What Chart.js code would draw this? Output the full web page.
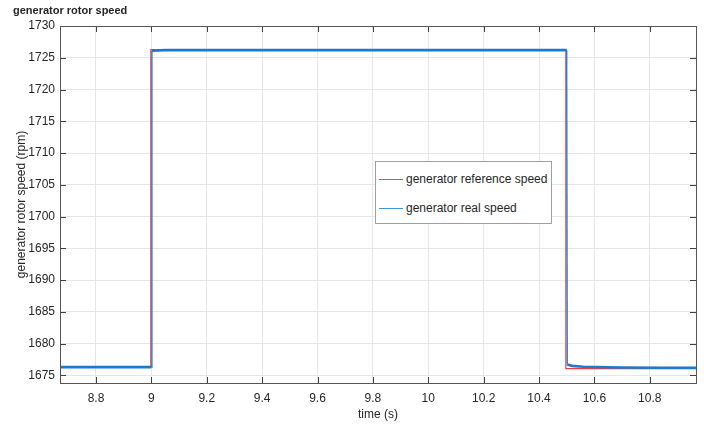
<!DOCTYPE html>
<html>
<head>
<meta charset="utf-8">
<script src="https://cdn.jsdelivr.net/npm/chart.js@4"></script>
<style>
  body { margin: 0; background: #fff; font-family: "Liberation Sans", Arial, sans-serif; }
  #wrap { position: relative; width: 704px; height: 427px; }
  #title { position: absolute; left: 13px; top: 4px; font-size: 11px; font-weight: bold; color: #262626; }
  #legend { position: absolute; left: 375px; top: 161px; width: 175px; height: 61px; border: 1px solid #a0a0a0; background: #fff; font-size: 12px; color: #262626; }
  .item { position: absolute; left: 3px; height: 14px; line-height: 14px; white-space: nowrap; }
  .item span.l { display: inline-block; width: 24px; height: 1px; vertical-align: middle; margin-right: 3px; }
</style>
</head>
<body>
<div id="wrap">
  <canvas id="myChart" width="704" height="427"></canvas>
  <div id="title">generator rotor speed</div>
  <div id="legend">
    <div class="item" style="top:10px"><span class="l" style="background:#f04848"></span>generator reference speed</div>
    <div class="item" style="top:39px"><span class="l" style="background:#3d95d6"></span>generator real speed</div>
  </div>
</div>
<script>
var refTime = [8.67, 8.998, 8.998, 10.497, 10.497, 10.967];
var refSpeed = [1676.3, 1676.3, 1726.3, 1726.3, 1676.05, 1676.05];

var realTime = [8.67, 8.8, 9.0, 9.002, 9.05, 9.5, 10.0, 10.5, 10.502, 10.52, 10.56, 10.7, 10.85, 10.967];
var realSpeed = [1676.3, 1676.3, 1676.3, 1726.1, 1726.2, 1726.2, 1726.2, 1726.2, 1676.7, 1676.5, 1676.35, 1676.25, 1676.2, 1676.2];

var xTicks = [8.8, 9, 9.2, 9.4, 9.6, 9.8, 10, 10.2, 10.4, 10.6, 10.8];
var yTicks = [1675, 1680, 1685, 1690, 1695, 1700, 1705, 1710, 1715, 1720, 1725, 1730];

function pts(xs, ys) {
    var out = [];
    for (var i = 0; i < xs.length; i++) out.push({ x: xs[i], y: ys[i] });
    return out;
}

// box around the plot with inward tick marks, matlab style
var boxPlugin = {
    id: 'box',
    afterDatasetsDraw: function (chart) {
        var c = chart.ctx, a = chart.chartArea;
        var xs = chart.scales.x, ys = chart.scales.y;
        c.save();
        c.strokeStyle = '#404040';
        c.lineWidth = 1;
        c.beginPath();
        xTicks.forEach(function (t) {
            var px = Math.round(xs.getPixelForValue(t)) + 0.5;
            c.moveTo(px, a.bottom); c.lineTo(px, a.bottom - 6);
            c.moveTo(px, a.top); c.lineTo(px, a.top + 6);
        });
        yTicks.forEach(function (t) {
            var py = Math.round(ys.getPixelForValue(t)) + 0.5;
            c.moveTo(a.left, py); c.lineTo(a.left + 6, py);
            c.moveTo(a.right, py); c.lineTo(a.right - 6, py);
        });
        c.stroke();
        c.strokeStyle = '#555';
        c.strokeRect(Math.round(a.left) + 0.5, Math.round(a.top) + 0.5, Math.round(a.right - a.left), Math.round(a.bottom - a.top));
        c.restore();
    }
};

// steps are thin, flat noisy parts look thick
function segWidth(thick, thin) {
    return function (ctx) {
        return Math.abs(ctx.p1.parsed.x - ctx.p0.parsed.x) < 0.01 ? thin : thick;
    };
}

new Chart(document.getElementById('myChart'), {
    type: 'line',
    data: {
        datasets: [{
            label: 'generator real speed',
            data: pts(realTime, realSpeed),
            borderColor: '#1f78c8',
            borderWidth: 2.4,
            segment: { borderWidth: segWidth(2.6, 1.3) },
            pointRadius: 0,
            order: 0
        }, {
            label: 'generator reference speed',
            data: pts(refTime, refSpeed),
            borderColor: '#f03c3c',
            borderWidth: 1.2,
            pointRadius: 0,
            order: 1
        }]
    },
    options: {
        responsive: false,
        animation: false,
        layout: { padding: { top: 26, right: 8, left: 0, bottom: 0 } },
        plugins: { legend: { display: false }, tooltip: { enabled: false } },
        scales: {
            x: {
                type: 'linear',
                min: 8.67,
                max: 10.967,
                afterFit: function (s) { s.height = 44; },
                afterBuildTicks: function (s) { s.ticks = xTicks.map(function (v) { return { value: v }; }); },
                ticks: {
                    padding: 8,
                    color: '#262626',
                    font: { family: 'Liberation Sans', size: 12 },
                    maxRotation: 0,
                    callback: function (v) { return String(parseFloat(v.toFixed(1))); }
                },
                grid: { color: '#e6e6e6', drawTicks: false },
                border: { display: false },
                title: {
                    display: true, text: 'time (s)', color: '#262626',
                    font: { family: 'Liberation Sans', size: 12 },
                    padding: { top: 0, bottom: 5 }
                }
            },
            y: {
                type: 'linear',
                min: 1673.8,
                max: 1730,
                afterFit: function (s) { s.width = 60; },
                afterBuildTicks: function (s) { s.ticks = yTicks.map(function (v) { return { value: v }; }); },
                ticks: {
                    padding: 5,
                    color: '#262626',
                    font: { family: 'Liberation Sans', size: 12 },
                    callback: function (v) { return String(v); }
                },
                grid: { color: '#e6e6e6', drawTicks: false },
                border: { display: false },
                title: {
                    display: true, text: 'generator rotor speed (rpm)', color: '#262626',
                    font: { family: 'Liberation Sans', size: 12 },
                    padding: { top: 14, bottom: 0 }
                }
            }
        }
    },
    plugins: [boxPlugin]
});
</script>
</body>
</html>
